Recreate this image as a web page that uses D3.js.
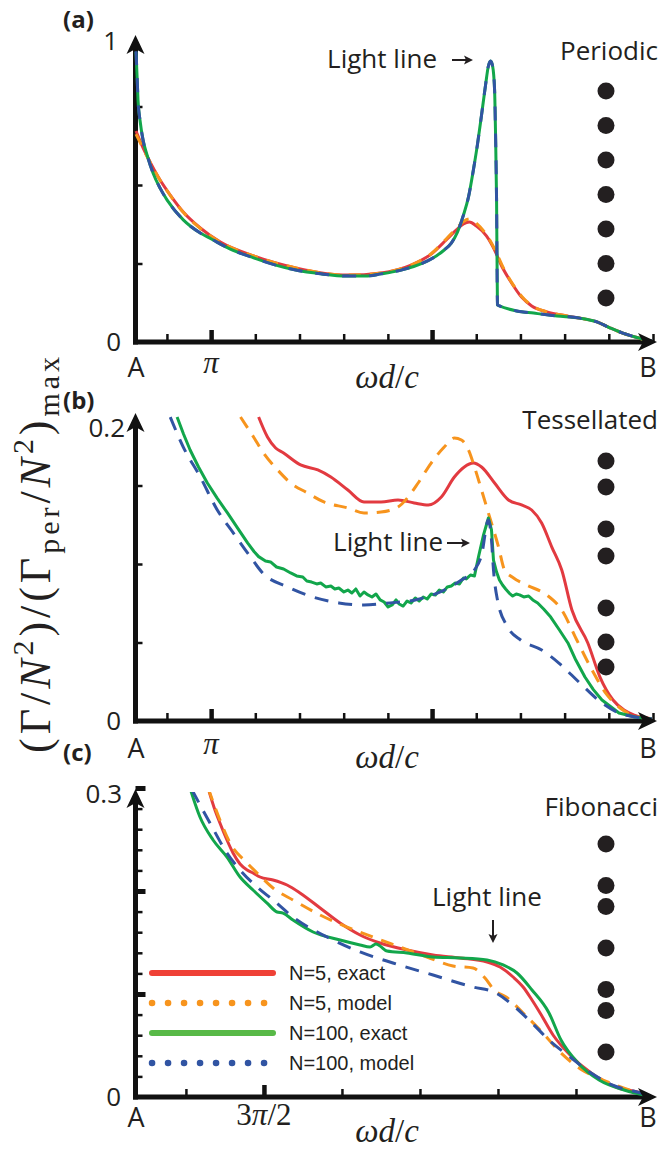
<!DOCTYPE html>
<html><head><meta charset="utf-8">
<script src="https://cdn.jsdelivr.net/npm/d3@7"></script>
<style>body{margin:0;background:#fff;} svg{display:block;}</style>
</head><body>
<svg id="chart" width="660" height="1150"></svg>
<script>
// ---------------- DATA (x in units of pi, y normalised decay rate) ----------------
// Panel (a) Periodic
const redA = [[0.66,0.672],[0.692,0.618],[0.724,0.573],[0.769,0.516],[0.815,0.468],[0.874,0.414],[0.951,0.363],[1.042,0.318],[1.192,0.274],[1.383,0.236],[1.615,0.213],[1.769,0.22],[1.905,0.245],[1.996,0.28],[2.064,0.325],[2.11,0.357],[2.142,0.376],[2.169,0.382],[2.201,0.369],[2.246,0.338],[2.283,0.293],[2.315,0.242],[2.36,0.188],[2.405,0.143],[2.451,0.115],[2.519,0.096],[2.61,0.083],[2.669,0.076],[2.746,0.064],[2.805,0.045],[2.86,0.029],[2.919,0.016],[2.974,0.006],[2.996,0.003]];
const orangeA = [[0.66,0.662],[0.692,0.616],[0.724,0.572],[0.769,0.515],[0.815,0.467],[0.874,0.413],[0.951,0.362],[1.042,0.318],[1.192,0.274],[1.383,0.236],[1.615,0.213],[1.769,0.22],[1.905,0.245],[1.996,0.281],[2.064,0.328],[2.11,0.362],[2.142,0.384],[2.169,0.392],[2.201,0.378],[2.246,0.342],[2.283,0.296],[2.32,0.24],[2.36,0.19],[2.405,0.146],[2.451,0.116],[2.519,0.096],[2.61,0.083],[2.669,0.076],[2.746,0.064],[2.805,0.045],[2.86,0.029],[2.919,0.016],[2.974,0.006],[2.996,0.003]];
const greenA = [[0.66,0.924],[0.665,0.844],[0.669,0.771],[0.678,0.707],[0.692,0.643],[0.71,0.596],[0.737,0.538],[0.769,0.49],[0.801,0.452],[0.874,0.389],[0.951,0.347],[1.001,0.328],[1.087,0.296],[1.192,0.268],[1.292,0.245],[1.383,0.229],[1.496,0.217],[1.615,0.21],[1.70,0.21],[1.769,0.217],[1.86,0.229],[1.96,0.252],[2.019,0.274],[2.055,0.293],[2.087,0.315],[2.115,0.35],[2.142,0.404],[2.165,0.462],[2.187,0.548],[2.205,0.627],[2.224,0.723],[2.242,0.818],[2.255,0.879],[2.265,0.895],[2.274,0.879],[2.283,0.803],[2.287,0.675],[2.292,0.452],[2.296,0.118],[2.305,0.115],[2.383,0.099],[2.46,0.092],[2.565,0.083],[2.669,0.076],[2.746,0.064],[2.805,0.045],[2.86,0.029],[2.919,0.016],[2.974,0.006],[2.996,0.003]];
const blueA = [[0.66,0.926],[0.665,0.846],[0.669,0.772],[0.678,0.707],[0.692,0.643],[0.71,0.596],[0.737,0.538],[0.769,0.49],[0.801,0.452],[0.874,0.389],[0.951,0.347],[1.001,0.328],[1.087,0.296],[1.192,0.268],[1.292,0.245],[1.383,0.229],[1.496,0.217],[1.615,0.21],[1.70,0.21],[1.769,0.217],[1.86,0.229],[1.96,0.252],[2.019,0.274],[2.055,0.293],[2.087,0.315],[2.115,0.35],[2.142,0.404],[2.165,0.462],[2.187,0.548],[2.205,0.627],[2.224,0.723],[2.242,0.818],[2.255,0.879],[2.265,0.895],[2.274,0.879],[2.283,0.803],[2.287,0.675],[2.292,0.452],[2.296,0.118],[2.305,0.115],[2.383,0.099],[2.46,0.092],[2.565,0.083],[2.669,0.076],[2.746,0.064],[2.805,0.045],[2.86,0.029],[2.919,0.016],[2.974,0.006],[2.996,0.003]];

// Panel (b) Tessellated
const redB = [[1.215,0.1936],[1.255,0.1809],[1.292,0.1739],[1.328,0.1707],[1.405,0.1631],[1.483,0.1599],[1.542,0.1554],[1.619,0.1471],[1.692,0.1395],[1.769,0.1395],[1.846,0.1408],[1.919,0.1389],[1.983,0.1376],[2.042,0.1427],[2.101,0.1554],[2.146,0.1618],[2.187,0.1643],[2.224,0.1618],[2.283,0.1516],[2.346,0.1408],[2.405,0.1376],[2.451,0.1344],[2.496,0.1261],[2.542,0.1108],[2.587,0.0962],[2.633,0.0707],[2.705,0.0497],[2.76,0.028],[2.819,0.0134],[2.869,0.007],[2.915,0.0038],[2.974,0.0019],[2.996,0.0013]];
const orangeB = [[1.133,0.1936],[1.192,0.1809],[1.237,0.1707],[1.301,0.1599],[1.36,0.1516],[1.437,0.1452],[1.51,0.1395],[1.619,0.1357],[1.692,0.1325],[1.769,0.1331],[1.846,0.1363],[1.892,0.1427],[1.937,0.1516],[1.996,0.1643],[2.055,0.1745],[2.101,0.1803],[2.133,0.179],[2.165,0.1726],[2.192,0.1618],[2.224,0.1471],[2.255,0.1325],[2.301,0.1108],[2.328,0.0962],[2.369,0.0911],[2.428,0.0866],[2.519,0.0803],[2.587,0.0707],[2.655,0.0516],[2.724,0.0325],[2.792,0.0166],[2.851,0.0083],[2.905,0.0038],[2.996,0.0013]];
const greenB = [[0.846,0.1936],[0.875,0.1828],[0.905,0.1726],[0.943,0.1618],[0.983,0.1516],[1.028,0.1418],[1.074,0.1325],[1.12,0.1228],[1.165,0.1134],[1.195,0.1078],[1.215,0.1047],[1.246,0.1019],[1.269,0.1013],[1.296,0.0981],[1.328,0.0968],[1.36,0.0943],[1.387,0.0924],[1.415,0.0917],[1.433,0.0892],[1.455,0.0885],[1.478,0.0873],[1.496,0.0879],[1.519,0.0854],[1.542,0.086],[1.56,0.0841],[1.578,0.0847],[1.601,0.0822],[1.619,0.0834],[1.637,0.0815],[1.655,0.0841],[1.674,0.0796],[1.692,0.0822],[1.71,0.0803],[1.728,0.079],[1.746,0.0809],[1.765,0.0771],[1.783,0.0758],[1.801,0.0726],[1.819,0.0739],[1.837,0.0771],[1.851,0.0745],[1.869,0.0732],[1.887,0.0764],[1.905,0.0752],[1.924,0.0783],[1.942,0.0764],[1.96,0.079],[1.978,0.0777],[1.996,0.0809],[2.015,0.0803],[2.033,0.0834],[2.051,0.0822],[2.069,0.0854],[2.087,0.086],[2.105,0.0879],[2.124,0.0873],[2.142,0.0911],[2.155,0.0905],[2.174,0.093],[2.192,0.0924],[2.21,0.1045],[2.233,0.1185],[2.255,0.1293],[2.269,0.1217],[2.278,0.1025],[2.292,0.0949],[2.305,0.0898],[2.319,0.0866],[2.333,0.0841],[2.349,0.0815],[2.365,0.0796],[2.381,0.0809],[2.396,0.0803],[2.415,0.079],[2.437,0.0796],[2.456,0.0771],[2.478,0.0752],[2.505,0.0713],[2.537,0.0662],[2.575,0.0583],[2.615,0.0497],[2.65,0.039],[2.692,0.028],[2.73,0.02],[2.769,0.0134],[2.846,0.0051],[2.919,0.0025],[2.996,0.0013]];
const blueB = [[0.815,0.1936],[0.874,0.1745],[0.951,0.1554],[1.028,0.1344],[1.101,0.1197],[1.178,0.1045],[1.233,0.0943],[1.346,0.0854],[1.46,0.079],[1.578,0.0752],[1.692,0.0739],[1.81,0.0752],[1.924,0.0771],[2.037,0.0822],[2.133,0.0898],[2.192,0.0962],[2.224,0.1057],[2.255,0.128],[2.269,0.1153],[2.278,0.0962],[2.296,0.0771],[2.342,0.0599],[2.401,0.0516],[2.496,0.0452],[2.574,0.0369],[2.669,0.0242],[2.769,0.0115],[2.846,0.0051],[2.919,0.0025],[2.996,0.0013]];

// Panel (c) Fibonacci
const redC = [[1.142,0.300],[1.186,0.2786],[1.218,0.266],[1.263,0.2495],[1.302,0.2369],[1.347,0.2262],[1.392,0.2204],[1.43,0.2175],[1.475,0.2136],[1.558,0.2107],[1.648,0.2058],[1.731,0.1981],[1.86,0.1835],[1.988,0.1689],[2.116,0.1573],[2.244,0.1495],[2.417,0.1427],[2.584,0.1379],[2.757,0.135],[2.93,0.1311],[3.013,0.1262],[3.097,0.1165],[3.161,0.1068],[3.218,0.0942],[3.27,0.0816],[3.353,0.0602],[3.462,0.0408],[3.597,0.0233],[3.757,0.0097],[3.917,0.0039],[3.975,0.001]];
const orangeC = [[1.142,0.300],[1.218,0.2689],[1.283,0.2466],[1.392,0.2272],[1.456,0.2175],[1.558,0.2029],[1.686,0.1913],[1.86,0.1767],[2.033,0.165],[2.199,0.1553],[2.372,0.1456],[2.545,0.1359],[2.712,0.1272],[2.84,0.1252],[2.917,0.1155],[2.975,0.1039],[3.052,0.0971],[3.161,0.0816],[3.27,0.065],[3.404,0.0427],[3.539,0.0262],[3.674,0.0165],[3.808,0.0087],[3.975,0.001]];
const greenC = [[1.026,0.300],[1.09,0.2718],[1.174,0.2495],[1.263,0.233],[1.347,0.2136],[1.43,0.201],[1.52,0.1883],[1.584,0.1796],[1.622,0.1786],[1.686,0.1718],[1.815,0.1602],[1.988,0.1524],[2.116,0.1476],[2.18,0.1456],[2.218,0.1485],[2.244,0.1466],[2.289,0.1417],[2.417,0.1398],[2.584,0.1359],[2.757,0.135],[2.93,0.133],[3.033,0.1282],[3.122,0.1204],[3.218,0.1039],[3.327,0.0816],[3.404,0.0553],[3.513,0.033],[3.648,0.0165],[3.808,0.0068],[3.975,0.001]];
const blueC = [[1.039,0.2981],[1.154,0.266],[1.263,0.2369],[1.347,0.2204],[1.456,0.2039],[1.558,0.1913],[1.686,0.1748],[1.904,0.1553],[2.116,0.1408],[2.327,0.1301],[2.584,0.1184],[2.84,0.1068],[2.975,0.1019],[3.109,0.0874],[3.218,0.0718],[3.327,0.0553],[3.462,0.0388],[3.597,0.0233],[3.731,0.0117],[3.917,0.0039],[3.975,0.001]];

// chain sketches: site positions along the chain (0..6)
const sitesPeriodic = [0,1,2,3,4,5,6];
const sitesTessellated = [0,0.76,1.98,2.77,4.28,5.27,6];
const sitesFibonacci = [0,1.2,1.8,3,4.2,4.8,6];

// ticks
const xTicksAB = [0.8,1.0,1.2,1.4,1.6,1.8,2.0,2.2,2.4,2.6,2.8,3.0];
const xMajorAB = [1.0,2.0];
const xTicksC = [1.0,1.5,2.0,2.5,3.0,3.5];
const xMajorC = [1.5];
const yTicksA = [0.25,0.5,0.75];
const yTicksB = [0.05,0.1,0.15];
const yTicksC = [0.02,0.04,0.06,0.08,0.12,0.14,0.16,0.18,0.22,0.24,0.26,0.28];
const yMajorC = [0.1,0.2,0.3];

const legendLabels = ["N=5, exact","N=5, model","N=100, exact","N=100, model"];

// ---------------- STYLE ----------------
const COL = {red:"#e23a40", orange:"#f7941d", green:"#12a64b", blue:"#3154a3",
             lred:"#ef4136", lgreen:"#58b947"};
const SANS = "'Open Sans', sans-serif";
const SERIF = "'Liberation Serif', serif";
const svg = d3.select("#chart");

function arrowUp(g, x, tip){
  g.append("path").attr("d",`M${x},${tip} L${x+9},${tip+19} L${x},${tip+14} L${x-9},${tip+19} Z`).attr("fill","#111");
}
function arrowRight(g, tip, y){
  g.append("path").attr("d",`M${tip},${y} L${tip-19},${y-9} L${tip-14},${y} L${tip-19},${y+9} Z`).attr("fill","#111");
}

function panel(cfg){
  const g = svg.append("g");
  const x = d3.scaleLinear().domain(cfg.xDom).range([136, cfg.xEnd]);
  const y = d3.scaleLinear().domain(cfg.yDom).range([cfg.y0, cfg.yTop]);
  const clipId = "clip"+cfg.id;
  svg.append("clipPath").attr("id",clipId).append("rect")
    .attr("x",130).attr("y",cfg.yTop+4).attr("width",530).attr("height",cfg.y0-cfg.yTop+4);

  g.append("line").attr("x1",133).attr("x2",cfg.xTip-12).attr("y1",cfg.y0).attr("y2",cfg.y0)
    .attr("stroke","#111").attr("stroke-width",5);
  g.append("line").attr("x1",135.5).attr("x2",135.5).attr("y1",cfg.y0+2.5).attr("y2",cfg.yTip+12)
    .attr("stroke","#111").attr("stroke-width",5);

  const minorX = cfg.xTicks.filter(v=>!cfg.xMajor.includes(v));
  const ax1 = g.append("g").attr("transform",`translate(0,${cfg.y0})`)
    .call(d3.axisBottom(x).tickValues(minorX).tickSize(-8).tickFormat(""));
  ax1.select(".domain").remove(); ax1.selectAll("line").attr("stroke","#111").attr("stroke-width",2.5);
  const ax2 = g.append("g").attr("transform",`translate(0,${cfg.y0})`)
    .call(d3.axisBottom(x).tickValues(cfg.xMajor).tickSize(-12).tickFormat(""));
  ax2.select(".domain").remove(); ax2.selectAll("line").attr("stroke","#111").attr("stroke-width",4.5);

  const ay1 = g.append("g").attr("transform",`translate(135.5,0)`)
    .call(d3.axisLeft(y).tickValues(cfg.yTicks).tickSize(-7).tickFormat(""));
  ay1.select(".domain").remove(); ay1.selectAll("line").attr("stroke","#111").attr("stroke-width",2.5);
  if (cfg.yMajor){
    const ay2 = g.append("g").attr("transform",`translate(135.5,0)`)
      .call(d3.axisLeft(y).tickValues(cfg.yMajor).tickSize(-10).tickFormat(""));
    ay2.select(".domain").remove(); ay2.selectAll("line").attr("stroke","#111").attr("stroke-width",5);
  }

  const line = d3.line().x(d=>x(d[0])).y(d=>y(d[1])).curve(d3.curveMonotoneX);
  const lineLin = d3.line().x(d=>x(d[0])).y(d=>y(d[1])).curve(d3.curveLinear);
  const sg = g.append("g").attr("clip-path",`url(#${clipId})`);
  cfg.series.forEach(s=>{
    sg.append("path").datum(s.data).attr("d", s.linear?lineLin(s.data):line(s.data))
      .attr("fill","none").attr("stroke",s.color).attr("stroke-width",3)
      .attr("stroke-linejoin","round")
      .attr("stroke-dasharray", s.dash||null);
  });

  arrowUp(g,135.5,cfg.yTip);
  arrowRight(g,cfg.xTip,cfg.y0);

  g.append("text").attr("x",cfg.yLabelX).attr("y",y(0)+9).attr("text-anchor","end")
    .style("font-family",SANS).style("font-size","26px").attr("fill","#231f20").text("0");
  g.append("text").attr("x",cfg.yLabelX+cfg.topLabelShift).attr("y",cfg.topLabelY).attr("text-anchor","end")
    .style("font-family",SANS).style("font-size","26px").attr("fill","#231f20").text(cfg.topLabel);

  g.append("text").attr("x",136).attr("y",cfg.y0+cfg.abDy).attr("text-anchor","middle")
    .style("font-family",SANS).style("font-size","27px").attr("fill","#231f20").text("A");
  g.append("text").attr("x",648).attr("y",cfg.y0+cfg.abDy).attr("text-anchor","middle")
    .style("font-family",SANS).style("font-size","27px").attr("fill","#231f20").text("B");
  cfg.xLabelVals.forEach((v,i)=>{
    const t = g.append("text").attr("x",x(v)).attr("y",cfg.y0+cfg.piDy).attr("text-anchor","middle")
      .style("font-family",SERIF).style("font-size","31px").attr("fill","#231f20");
    cfg.xLabels[i].forEach(p=>t.append("tspan").style("font-style",p[1]?"italic":"normal").text(p[0]));
  });
  const xl = g.append("text").attr("x",387).attr("y",cfg.y0+cfg.wDy).attr("text-anchor","middle")
    .style("font-family",SERIF).style("font-size","33px").attr("fill","#231f20");
  xl.append("tspan").style("font-style","italic").text("ωd");
  xl.append("tspan").text("/");
  xl.append("tspan").style("font-style","italic").text("c");

  g.append("text").attr("x",63).attr("y",cfg.tagY).style("font-family",SANS).style("font-weight","bold")
    .style("font-size","24px").attr("fill","#231f20").text(cfg.tag);

  g.append("text").attr("x",658).attr("y",cfg.nameY).attr("text-anchor","end")
    .style("font-family",SANS).style("font-size","26px").attr("fill","#231f20").text(cfg.name);
  const sy = d3.scaleLinear().domain([0,6]).range(cfg.siteRange);
  g.selectAll("circle.site").data(cfg.sites).join("circle").attr("class","site")
    .attr("cx",606).attr("cy",d=>sy(d)).attr("r",8.5).attr("fill","#231f20");
  return {g,x,y};
}

function lightArrowH(x1,x2,yv){
  svg.append("line").attr("x1",x1).attr("x2",x2-6).attr("y1",yv).attr("y2",yv).attr("stroke","#231f20").attr("stroke-width",2);
  svg.append("path").attr("d",`M${x2},${yv} L${x2-9},${yv-4.5} L${x2-7},${yv} L${x2-9},${yv+4.5} Z`).attr("fill","#231f20");
}
function lightArrowV(xv,y1,y2){
  svg.append("line").attr("x1",xv).attr("x2",xv).attr("y1",y1).attr("y2",y2-6).attr("stroke","#231f20").attr("stroke-width",2);
  svg.append("path").attr("d",`M${xv},${y2} L${xv-4.5},${y2-9} L${xv},${y2-7} L${xv+4.5},${y2-9} Z`).attr("fill","#231f20");
}
function sansText(x,y,t,anchor){
  svg.append("text").attr("x",x).attr("y",y).attr("text-anchor",anchor||"start")
    .style("font-family",SANS).style("font-size","26px").attr("fill","#231f20").text(t);
}

// ---------------- PANELS ----------------
panel({id:"a", xDom:[0.66,3.0], xEnd:653, xTip:657, yDom:[0,1], y0:342, yTop:28, yTip:35,
  xTicks:xTicksAB, xMajor:xMajorAB, yTicks:yTicksA,
  series:[{data:redA,color:COL.red},{data:orangeA,color:COL.orange,dash:"12 9"},
          {data:greenA,color:COL.green},{data:blueA,color:COL.blue,dash:"14 13"}],
  yLabelX:121, topLabel:"1", topLabelY:50, topLabelShift:-3,
  abDy:35, piDy:31, wDy:46, xLabelVals:[1.0], xLabels:[[["π",1]]],
  tag:"(a)", tagY:28, name:"Periodic", nameY:60, sites:sitesPeriodic, siteRange:[91,298]});

panel({id:"b", xDom:[0.66,3.0], xEnd:653, xTip:657, yDom:[0,0.2], y0:721, yTop:407, yTip:413,
  xTicks:xTicksAB, xMajor:xMajorAB, yTicks:yTicksB,
  series:[{data:redB,color:COL.red},{data:orangeB,color:COL.orange,dash:"13 9"},
          {data:greenB,color:COL.green,linear:true},{data:blueB,color:COL.blue,dash:"14 10"}],
  yLabelX:121, topLabel:"0.2", topLabelY:437, topLabelShift:4,
  abDy:37, piDy:33, wDy:47, xLabelVals:[1.0], xLabels:[[["π",1]]],
  tag:"(b)", tagY:409, name:"Tessellated", nameY:429, sites:sitesTessellated, siteRange:[461,667]});

panel({id:"c", xDom:[0.68,4.0], xEnd:654, xTip:657, yDom:[0,0.3], y0:1097, yTop:788, yTip:789,
  xTicks:xTicksC, xMajor:xMajorC, yTicks:yTicksC, yMajor:yMajorC,
  series:[{data:redC,color:COL.red},{data:orangeC,color:COL.orange,dash:"13 9"},
          {data:greenC,color:COL.green},{data:blueC,color:COL.blue,dash:"14 10"}],
  yLabelX:121, topLabel:"0.3", topLabelY:803, topLabelShift:1,
  abDy:30, piDy:28, wDy:45, xLabelVals:[1.5], xLabels:[[["3",0],["π",1],["/2",0]]],
  tag:"(c)", tagY:761, name:"Fibonacci", nameY:816, sites:sitesFibonacci, siteRange:[844,1052]});

// light line annotations
sansText(437,68,"Light line","end"); lightArrowH(452,473,60);
sansText(443,551,"Light line","end"); lightArrowH(447,470,543);
sansText(432,906,"Light line","start"); lightArrowV(493,920,943);

// legend
const legY = d3.scalePoint().domain(legendLabels).range([973,1063]);
const legStyle = [{c:COL.lred,dot:false},{c:COL.orange,dot:true},{c:COL.lgreen,dot:false},{c:COL.blue,dot:true}];
legendLabels.forEach((lab,i)=>{
  const yy = legY(lab);
  svg.append("line").attr("x1",152).attr("x2",273).attr("y1",yy).attr("y2",yy)
    .attr("stroke",legStyle[i].c).attr("stroke-width",legStyle[i].dot?6.5:6)
    .attr("stroke-linecap","round")
    .attr("stroke-dasharray",legStyle[i].dot?"0.1 15.9":null);
  svg.append("text").attr("x",289).attr("y",yy+7).style("font-family","'Liberation Sans', Arial, sans-serif")
    .style("font-size","20px").attr("fill","#231f20").text(lab);
});

// y-axis title
const yt = svg.append("text").attr("transform","translate(50,553) rotate(-90)").attr("text-anchor","middle")
  .style("font-family",SERIF).style("font-size","44px").attr("fill","#231f20");
yt.append("tspan").text("(Γ/");
yt.append("tspan").style("font-style","italic").text("N");
yt.append("tspan").attr("dy",-17).style("font-size","30px").text("2");
yt.append("tspan").attr("dy",17).text(")/(Γ");
yt.append("tspan").attr("dy",9).style("font-size","30px").text("per");
yt.append("tspan").attr("dy",-9).text("/");
yt.append("tspan").style("font-style","italic").text("N");
yt.append("tspan").attr("dy",-17).style("font-size","30px").text("2");
yt.append("tspan").attr("dy",17).text(")");
yt.append("tspan").attr("dy",9).style("font-size","30px").text("max");
const len = yt.node().getComputedTextLength();
if (len < 400) yt.style("letter-spacing", ((400-len)/19).toFixed(2)+"px");
</script>
</body></html>
